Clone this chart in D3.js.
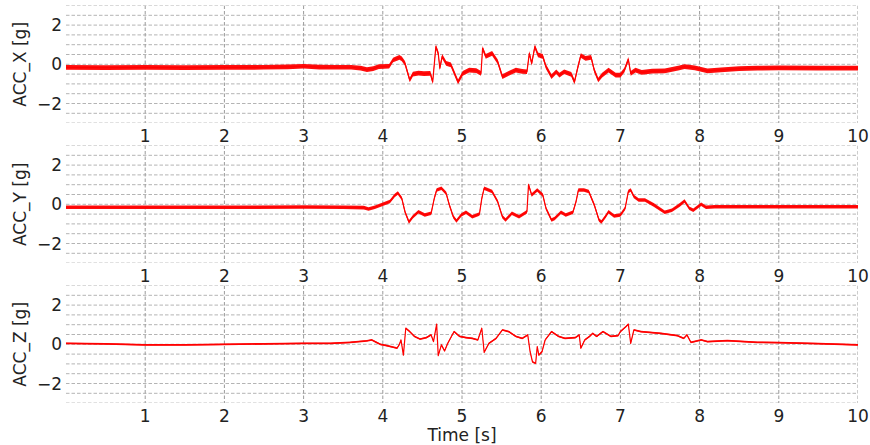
<!DOCTYPE html>
<html>
<head>
<meta charset="utf-8">
<script src="https://cdn.jsdelivr.net/npm/d3@7"></script>
<style>
  body { margin: 0; background: #fff; }
  text { font-family: "DejaVu Sans", sans-serif; fill: #222; }
</style>
</head>
<body>
<div id="chart"></div>
<script>
// [time s, acceleration g]
const accX = [
  [0, -0.16], [0.5, -0.17], [1, -0.16], [1.5, -0.17], [2, -0.16], [2.5, -0.15], [2.8, -0.13],
  [3.0, -0.1], [3.2, -0.14], [3.4, -0.15], [3.6, -0.15], [3.72, -0.2], [3.8, -0.27], [3.88, -0.22],
  [3.95, -0.12], [4.08, -0.1], [4.13, 0.22], [4.18, 0.3], [4.21, 0.35], [4.24, 0.28], [4.28, 0.05],
  [4.34, -0.8], [4.38, -0.5], [4.45, -0.45], [4.52, -0.48], [4.6, -0.46], [4.63, -0.9], [4.67, 0.9],
  [4.7, 0.56], [4.72, -0.2], [4.75, 0.4], [4.8, 0.05], [4.86, -0.03], [4.95, -0.9], [5.01, -0.46],
  [5.09, -0.3], [5.18, -0.32], [5.24, -0.46], [5.26, 0.82], [5.3, 0.4], [5.38, 0.56], [5.45, 0.14],
  [5.51, -0.63], [5.59, -0.46], [5.68, -0.3], [5.76, -0.36], [5.82, -0.38], [5.85, 0.56], [5.88, 0.05],
  [5.92, 0.9], [5.96, 0.48], [6.02, 0.4], [6.06, -0.12], [6.13, -0.63], [6.19, -0.38], [6.23, -0.55],
  [6.29, -0.38], [6.38, -0.51], [6.42, -0.9], [6.46, -0.2], [6.5, 0.45], [6.56, 0.3], [6.63, 0.35],
  [6.67, -0.3], [6.72, -0.8], [6.77, -0.55], [6.85, -0.3], [6.94, -0.55], [7.0, -0.55], [7.05, -0.3],
  [7.1, 0.25], [7.13, -0.46], [7.19, -0.3], [7.27, -0.41], [7.4, -0.35], [7.56, -0.34], [7.73, -0.2],
  [7.81, -0.12], [7.94, -0.18], [8.1, -0.34], [8.27, -0.28], [8.5, -0.22], [8.73, -0.2], [9.0, -0.18],
  [9.5, -0.2], [10, -0.19]
];

const accY = [
  [0, -0.15], [1, -0.15], [2, -0.15], [3, -0.14], [3.5, -0.15], [3.76, -0.17], [3.82, -0.24],
  [3.9, -0.15], [4.0, 0], [4.09, 0.14], [4.15, 0.45], [4.19, 0.58], [4.24, 0.3], [4.28, -0.38],
  [4.33, -0.9], [4.38, -0.63], [4.45, -0.38], [4.53, -0.55], [4.61, -0.46], [4.65, 0.3], [4.68, 0.73],
  [4.74, 0.82], [4.8, 0.56], [4.84, -0.03], [4.89, -0.63], [4.93, -0.85], [4.99, -0.55], [5.05, -0.41],
  [5.13, -0.63], [5.22, -0.5], [5.25, 0.3], [5.28, 0.82], [5.38, 0.65], [5.45, 0.14], [5.51, -0.63],
  [5.55, -0.8], [5.63, -0.46], [5.72, -0.63], [5.82, -0.38], [5.84, 1.0], [5.88, 0.48], [5.95, 0.73],
  [6.02, 0.48], [6.06, -0.2], [6.13, -0.8], [6.17, -0.72], [6.25, -0.41], [6.31, -0.55], [6.4, -0.41],
  [6.44, 0.14], [6.47, 0.73], [6.54, 0.73], [6.6, 0.65], [6.67, -0.03], [6.73, -0.8], [6.76, -0.9],
  [6.81, -0.63], [6.85, -0.38], [6.92, -0.6], [7.0, -0.55], [7.06, -0.2], [7.1, 0.65], [7.13, 0.73],
  [7.17, 0.4], [7.23, 0.22], [7.31, 0.22], [7.42, -0.03], [7.56, -0.41], [7.65, -0.3], [7.75, -0.03],
  [7.81, 0.17], [7.87, -0.2], [7.92, -0.3], [8.02, 0], [8.08, -0.15], [8.19, -0.12], [9, -0.12],
  [10, -0.12]
];

const accZ = [
  [0, 0.05], [0.5, 0.02], [1, -0.03], [1.5, -0.03], [2, 0], [2.5, 0.02], [3, 0.05], [3.34, 0.05],
  [3.59, 0.1], [3.8, 0.18], [3.86, 0.22], [3.92, 0.1], [3.97, 0], [4.05, -0.07], [4.13, -0.15],
  [4.18, -0.2], [4.21, 0], [4.23, 0.22], [4.26, -0.55], [4.29, 0.82], [4.34, 0.65], [4.4, 0.4],
  [4.47, 0.27], [4.55, 0.34], [4.61, 0.48], [4.64, 0.14], [4.68, 1.03], [4.7, -0.58], [4.74, -0.03],
  [4.78, -0.34], [4.82, 0.05], [4.9, 0.65], [4.97, 0.4], [5.05, 0.34], [5.13, 0.3], [5.2, 0.22],
  [5.25, 0.82], [5.28, -0.41], [5.34, 0.05], [5.43, 0.3], [5.51, 0.73], [5.59, 0.65], [5.68, 0.4],
  [5.76, 0.3], [5.83, 0.48], [5.86, -0.38], [5.89, -0.9], [5.93, -0.97], [5.95, -0.12], [5.97, -0.55],
  [6.01, -0.38], [6.05, 0.22], [6.13, 0.65], [6.22, 0.4], [6.3, 0.3], [6.43, 0.34], [6.48, 0.48],
  [6.5, -0.2], [6.55, 0.22], [6.61, 0.4], [6.65, 0.56], [6.7, 0.4], [6.78, 0.65], [6.88, 0.4],
  [6.97, 0.44], [7.0, 0.65], [7.07, 0.9], [7.1, 1.03], [7.13, 0.05], [7.17, 0.73], [7.26, 0.65],
  [7.51, 0.56], [7.72, 0.44], [7.8, 0.3], [7.84, 0.48], [7.89, 0.1], [8.02, 0.22], [8.1, 0.14],
  [8.35, 0.19], [8.73, 0.1], [9, 0.09], [9.5, 0.03], [10, -0.03]
];

// sensor noise half-width per channel (g)
const noiseX = 0.12;
const noiseY = 0.09;
const noiseZ = 0.045;

const panelLabels = ["ACC_X [g]", "ACC_Y [g]", "ACC_Z [g]"];
const xTicks = [1, 2, 3, 4, 5, 6, 7, 8, 9, 10];
const yTicks = [-2, 0, 2];
const yGrid = d3.range(-3, 3.01, 0.5);
const xLabel = "Time [s]";

const panels = [
  { label: panelLabels[0], data: accX, noise: noiseX },
  { label: panelLabels[1], data: accY, noise: noiseY },
  { label: panelLabels[2], data: accZ, noise: noiseZ }
];

const width = 870;
const height = 445;
const left = 66, right = 858;
const panelTop = 5.5, panelH = 117.6, panelStep = 140;

const svg = d3.select("#chart").append("svg")
  .attr("width", width)
  .attr("height", height);

const x = d3.scaleLinear().domain([0, 10]).range([left, right]);

panels.forEach((p, i) => {
  const top = panelTop + i * panelStep;
  const bottom = top + panelH;
  const y = d3.scaleLinear().domain([-3, 3]).range([bottom, top]);

  const clipId = "clip" + i;
  svg.append("clipPath").attr("id", clipId)
    .append("rect")
    .attr("x", left).attr("y", top)
    .attr("width", right - left).attr("height", panelH);

  const g = svg.append("g");
  const grid = g.append("g").attr("clip-path", `url(#${clipId})`);

  // horizontal grid every 0.5 g
  grid.selectAll("line.hg")
    .data(yGrid)
    .enter().append("line")
    .attr("class", "hg")
    .attr("x1", left).attr("x2", right)
    .attr("y1", d => y(d)).attr("y2", d => y(d))
    .attr("stroke", "#b4b4b4")
    .attr("stroke-width", 1)
    .attr("stroke-dasharray", "3.5,2");

  // vertical grid at each second
  grid.selectAll("line.vg")
    .data(xTicks)
    .enter().append("line")
    .attr("class", "vg")
    .attr("x1", d => x(d)).attr("x2", d => x(d))
    .attr("y1", top).attr("y2", bottom)
    .attr("stroke", "#9a9a9a")
    .attr("stroke-width", 1)
    .attr("stroke-dasharray", "3.5,2");

  // noisy band + centre line
  const plot = g.append("g").attr("clip-path", `url(#${clipId})`);
  const area = d3.area()
    .x(d => x(d[0]))
    .y0(d => y(d[1] - p.noise))
    .y1(d => y(d[1] + p.noise));
  const line = d3.line()
    .x(d => x(d[0]))
    .y(d => y(d[1]));

  plot.append("path")
    .datum(p.data)
    .attr("d", area)
    .attr("fill", "#ff0000")
    .attr("opacity", 0.95);

  plot.append("path")
    .datum(p.data)
    .attr("d", line)
    .attr("fill", "none")
    .attr("stroke", "#ff0000")
    .attr("stroke-width", 1.2)
    .attr("stroke-linejoin", "round");

  // y tick labels
  g.selectAll("text.yt")
    .data(yTicks)
    .enter().append("text")
    .attr("class", "yt")
    .attr("x", 62)
    .attr("y", d => y(d))
    .attr("dy", "0.36em")
    .attr("text-anchor", "end")
    .attr("font-size", 17)
    .text(d => d < 0 ? "\u2212" + Math.abs(d) : d);

  // x tick labels
  g.selectAll("text.xt")
    .data(xTicks)
    .enter().append("text")
    .attr("class", "xt")
    .attr("x", d => x(d))
    .attr("y", bottom + 19)
    .attr("text-anchor", "middle")
    .attr("font-size", 17)
    .text(d => d);

  // y axis label
  g.append("text")
    .attr("transform", `translate(26,${(top + bottom) / 2}) rotate(-90)`)
    .attr("text-anchor", "middle")
    .attr("font-size", 17)
    .text(p.label);
});

svg.append("text")
  .attr("x", (left + right) / 2)
  .attr("y", 441)
  .attr("text-anchor", "middle")
  .attr("font-size", 17)
  .text(xLabel);
</script>
</body>
</html>
